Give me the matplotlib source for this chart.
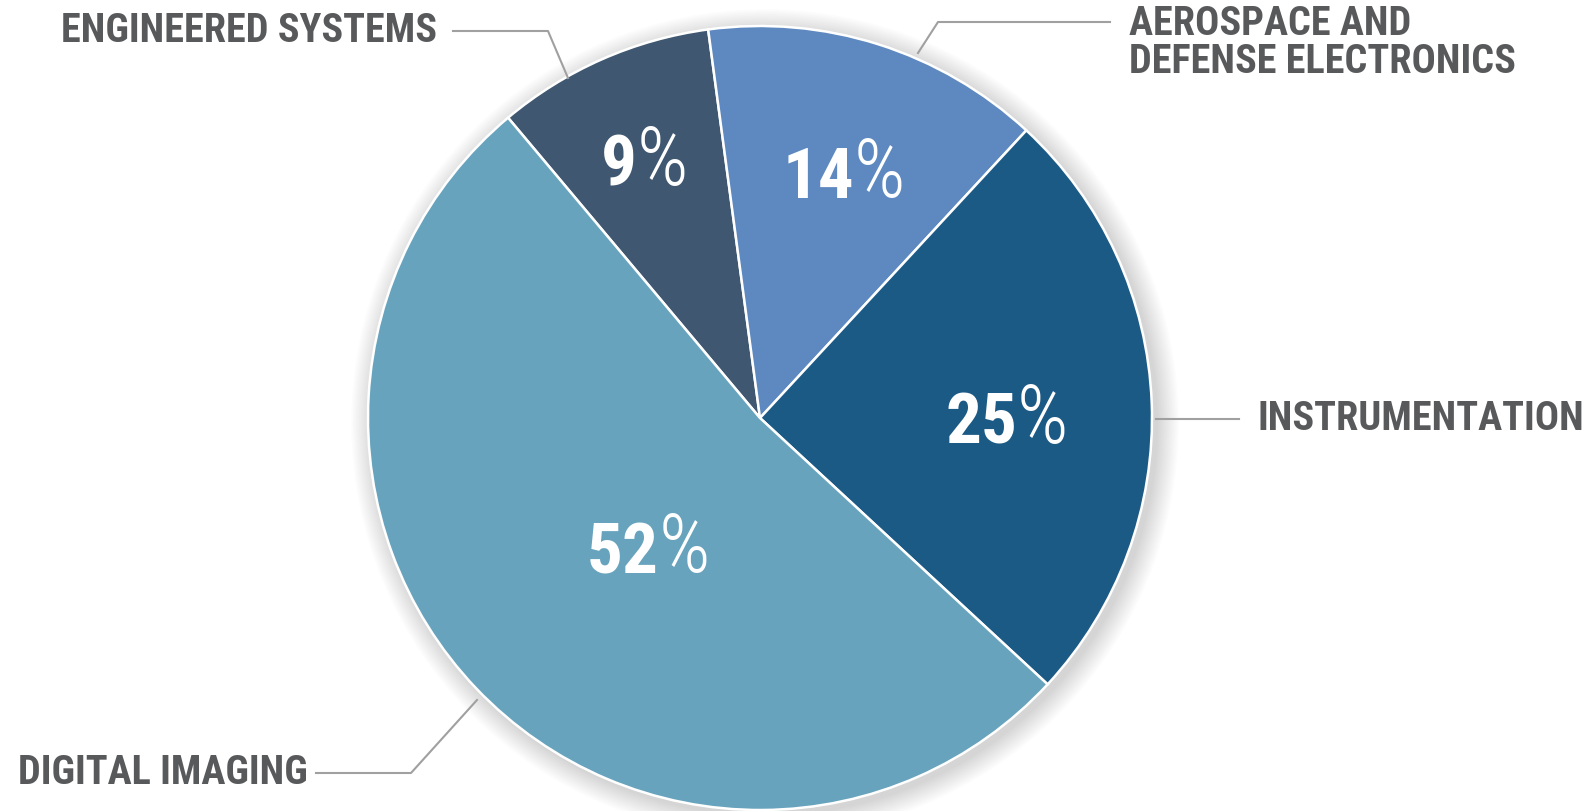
import matplotlib
matplotlib.use("Agg")
import matplotlib.pyplot as plt
import numpy as np

# segment data
segments = ["ENGINEERED SYSTEMS", "AEROSPACE AND\nDEFENSE ELECTRONICS", "INSTRUMENTATION", "DIGITAL IMAGING"]
shares = [9, 14, 25, 52]
colors = ["#3f5770", "#5d89c0", "#1c5a86", "#68a3bd"]

W, H = 1590, 811
fig = plt.figure(figsize=(W / 100, H / 100), dpi=100)
ax = fig.add_axes([0, 0, 1, 1])

cx, cy, R = 760, H - 418, 392
font = ["Roboto Condensed", "DejaVu Sans"]
txt_color = "#58595b"
line_color = "#a0a0a0"

# soft shadow behind the pie
for k in range(14):
    circ = plt.Circle((cx + 5, cy - 5), R + 1 + k * 1.6, color="#000000", alpha=0.012, lw=0)
    ax.add_patch(circ)

wedges, _ = ax.pie(shares, colors=colors, startangle=130, counterclock=False,
                   center=(cx, cy), radius=R, frame=True,
                   wedgeprops=dict(edgecolor="white", linewidth=1.8))

# percent labels: bold number + thin percent sign, sharing a baseline
pct_pos = [(637, H - 186), (854, H - 198), (1017, H - 444), (659, H - 573)]
for v, (x, y) in zip(shares, pct_pos):
    ax.text(x, y, str(v), ha="right", va="baseline", color="white",
            fontsize=51, fontweight="bold", family=font)
    ax.text(x, y + 1, "%", ha="left", va="baseline", color="white",
            fontsize=58, fontweight="light", family=font)

lab = dict(ha="left", va="center", color=txt_color, fontsize=29,
           fontweight="bold", family=font)

# category labels with leader lines
ax.text(61, H - 31, segments[0], **lab)
ax.plot([453, 548, 568], [H - 31, H - 31, H - 78], color=line_color, lw=1.5)

ax.text(1129, H - 43, segments[1], linespacing=1.0, **lab)
ax.plot([1110, 938, 918], [H - 22, H - 22, H - 53], color=line_color, lw=1.5)

ax.text(1258, H - 419, segments[2], **lab)
ax.plot([1156, 1239], [H - 419, H - 419], color=line_color, lw=1.5)

ax.text(18, H - 773, segments[3], **lab)
ax.plot([316, 411, 477], [H - 773, H - 773, H - 700], color=line_color, lw=1.5)

ax.set_xlim(0, W)
ax.set_ylim(0, H)
ax.axis("off")

fig.savefig("out.png", dpi=100, facecolor="white")
